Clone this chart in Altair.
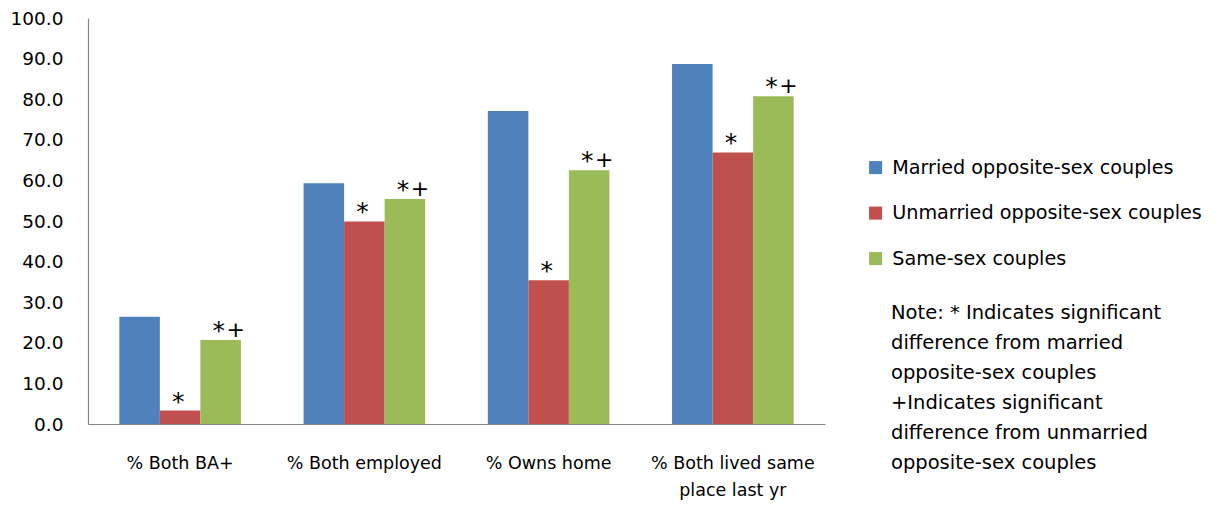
import altair as alt
import pandas as pd

categories = ["% Both BA+", "% Both employed", "% Owns home", "% Both lived same\nplace last yr"]
series = ["Married  opposite-sex couples", "Unmarried opposite-sex couples", "Same-sex couples"]
colors = ["#4F81BD", "#C0504D", "#9BBB59"]

married = [26.4, 59.3, 77.1, 88.7]
unmarried = [3.3, 49.9, 35.4, 66.9]
same_sex = [20.7, 55.4, 62.5, 80.7]

star_marks = [["", "*", "*"], ["", "*", "*"], ["", "*", "*"], ["", "*", "*"]]
plus_marks = [["", "", "+"], ["", "", "+"], ["", "", "+"], ["", "", "+"]]

y_ticks = [0, 10, 20, 30, 40, 50, 60, 70, 80, 90, 100]

note_lines = [
    "Note: * Indicates significant",
    "difference from married",
    "opposite-sex couples",
    "+Indicates significant",
    "difference from unmarried",
    "opposite-sex couples",
]

rows = []
for i, c in enumerate(categories):
    for j, (s, vals) in enumerate(zip(series, [married, unmarried, same_sex])):
        rows.append({"category": c, "series": s, "value": vals[i],
                     "star": star_marks[i][j], "plus": plus_marks[i][j]})
df = pd.DataFrame(rows)

FONT = "DejaVu Sans"

x_enc = alt.X("category:N", sort=categories, title=None,
              scale=alt.Scale(paddingInner=0.34, paddingOuter=0.17),
              axis=alt.Axis(labelAngle=0, ticks=False, labelPadding=30,
                            labelExpr="split(datum.label, '\\n')",
                            labelFontSize=17.5, labelFont=FONT, labelColor="#000000",
                            labelLineHeight=27,
                            domainColor="#868686", domainWidth=1.2))
xo_enc = alt.XOffset("series:N", sort=series)
y_enc = alt.Y("value:Q", title=None,
              scale=alt.Scale(domain=[0, 100], nice=False),
              axis=alt.Axis(values=y_ticks, format=".1f", ticks=False, grid=False,
                            labelPadding=25, labelFontSize=18.5, labelFont=FONT,
                            labelColor="#000000",
                            domainColor="#868686", domainWidth=1.2))

bars = alt.Chart(df).mark_bar().encode(
    x=x_enc,
    xOffset=xo_enc,
    y=y_enc,
    color=alt.Color("series:N", sort=series,
                    scale=alt.Scale(domain=series, range=colors),
                    legend=alt.Legend(title=None, orient="none", legendX=778, legendY=140,
                                      symbolType="square", symbolSize=170,
                                      symbolStrokeWidth=0,
                                      labelFontSize=19.2, labelFont=FONT, labelColor="#000000",
                                      labelOffset=7, rowPadding=25.5, labelLimit=400)),
)

stars = alt.Chart(df).transform_filter("datum.star != ''").mark_text(
    font=FONT, fontSize=25, color="#000000", baseline="alphabetic", dy=-1, dx=-2
).encode(x=alt.X("category:N", sort=categories), xOffset=xo_enc,
         y=alt.Y("value:Q"), text="star:N")

pluses = alt.Chart(df).transform_filter("datum.plus != ''").mark_text(
    font=FONT, fontSize=22, color="#000000", baseline="alphabetic", dy=-3, dx=15
).encode(x=alt.X("category:N", sort=categories), xOffset=xo_enc,
         y=alt.Y("value:Q"), text="plus:N")

note = alt.Chart(pd.DataFrame({"note": ["\n".join(note_lines)]})).mark_text(
    font=FONT, fontSize=19.5, color="#000000", align="left", baseline="middle",
    lineBreak="\n", lineHeight=30
).encode(x=alt.value(803), y=alt.value(295), text="note:N")

chart = alt.layer(bars, stars, pluses, note).properties(
    width=737, height=406,
    autosize=alt.AutoSizeParams(type="none"),
    padding={"left": 80, "top": 10, "right": 383, "bottom": 76},
).configure_view(stroke=None)

chart.save("out.html", embed_options={"renderer": "svg", "actions": False})
